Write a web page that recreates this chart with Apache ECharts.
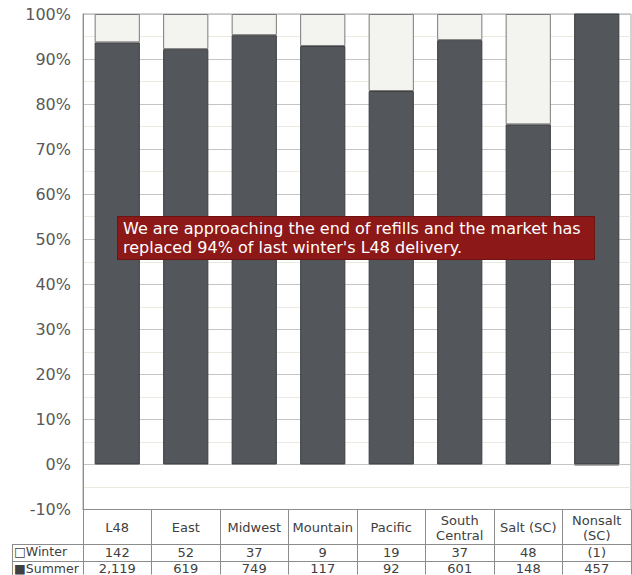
<!DOCTYPE html>
<html><head><meta charset="utf-8">
<script src="https://cdn.jsdelivr.net/npm/echarts@6/dist/echarts.min.js"></script>
<style>html,body{margin:0;padding:0;background:#fff}#c{width:632px;height:575px}</style>
</head><body><div id="c"></div>
<script>
const categories = ['L48', 'East', 'Midwest', 'Mountain', 'Pacific', 'South\nCentral', 'Salt (SC)', 'Nonsalt\n(SC)'];
const summerPct = [93.7, 92.2, 95.3, 92.9, 82.9, 94.2, 75.5, 100.2];
const winterPct = [6.3, 7.8, 4.7, 7.1, 17.1, 5.8, 24.5, -0.2];
const winterVals = ['142', '52', '37', '9', '19', '37', '48', '(1)'];
const summerVals = ['2,119', '619', '749', '117', '92', '601', '148', '457'];
const rowHeaders = ['\u25A1Winter', '\u25A0Summer'];
const annotation = "We are approaching the end of refills and the market has\nreplaced 94% of last winter's L48 delivery.";
const yMin = -10, yMax = 100, yStep = 10;

const FONT = 'DejaVu Sans';
const lineCol = '#8c8c8c';
const chart = echarts.init(document.getElementById('c'), null, {renderer: 'svg'});

function extraAxis(vals, offset) {
  return {
    type: 'category', data: categories, position: 'bottom', offset: offset, gridIndex: 0,
    axisLine: {show: false, onZero: false}, axisTick: {show: false}, splitLine: {show: false},
    axisLabel: {interval: 0, margin: 0, verticalAlign: 'middle', color: '#404040', fontFamily: FONT, fontSize: 13,
      formatter: (v, i) => vals[i]}
  };
}

chart.setOption({
  animation: false,
  backgroundColor: '#fff',
  title: {
    text: annotation, left: 117, top: 216, padding: [3, 14, 3, 6],
    backgroundColor: '#8c1818', borderColor: '#6e1212', borderWidth: 1,
    textStyle: {color: '#fff', fontSize: 16, lineHeight: 19, fontFamily: FONT, fontWeight: 'normal'}
  },
  grid: {left: 83, right: 1, top: 14, bottom: 65, show: true, borderColor: '#a6a6a6', borderWidth: 1, containLabel: false},
  xAxis: [
    {
      type: 'category', data: categories, position: 'bottom',
      axisLine: {show: true, onZero: false, lineStyle: {color: lineCol}},
      axisTick: {show: true, interval: 0, length: 65, lineStyle: {color: lineCol}},
      axisLabel: {interval: 0, margin: 18, verticalAlign: 'middle', lineHeight: 15, color: '#404040', fontFamily: FONT, fontSize: 13}
    },
    extraAxis(winterVals, 42.5),
    extraAxis(summerVals, 59)
  ],
  yAxis: {
    type: 'value', min: yMin, max: yMax, interval: yStep,
    axisLine: {show: true, lineStyle: {color: '#8c8c8c'}},
    axisTick: {show: false},
    axisLabel: {formatter: '{value}%', color: '#595959', fontFamily: FONT, fontSize: 16, margin: 12},
    splitLine: {show: true, lineStyle: {color: '#c4c4c4', width: 1}},
    minorTick: {show: false, splitNumber: 2},
    minorSplitLine: {show: true, lineStyle: {color: '#ebe9e0', width: 1}}
  },
  series: [
    {
      name: 'Summer', type: 'bar', stack: 'a', data: summerPct, barWidth: '66%',
      itemStyle: {color: '#53565a', borderColor: '#3c3e41', borderWidth: 1}
    },
    {
      name: 'Winter', type: 'bar', stack: 'a', data: winterPct, barWidth: '66%',
      itemStyle: {color: '#f3f3f0', borderColor: '#7a7a7a', borderWidth: 1}
    }
  ],
  graphic: [
    {type: 'line', shape: {x1: 12, y1: 544.5, x2: 631, y2: 544.5}, style: {stroke: lineCol, lineWidth: 1}},
    {type: 'line', shape: {x1: 12, y1: 561.5, x2: 631, y2: 561.5}, style: {stroke: lineCol, lineWidth: 1}},
    {type: 'line', shape: {x1: 12.5, y1: 544, x2: 12.5, y2: 575}, style: {stroke: lineCol, lineWidth: 1}},
    {type: 'text', left: 14, top: 545, style: {text: rowHeaders[0], fill: '#404040', font: '12.5px "DejaVu Sans"'}},
    {type: 'text', left: 14, top: 562, style: {text: rowHeaders[1], fill: '#404040', font: '12.5px "DejaVu Sans"'}}
  ]
});
</script>
</body></html>
